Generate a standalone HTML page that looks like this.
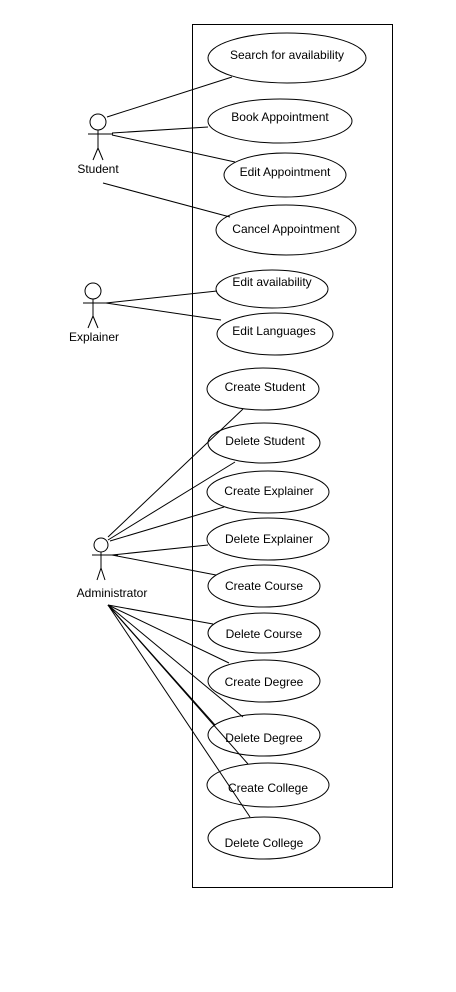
<!DOCTYPE html>
<html><head><style>html,body{margin:0;padding:0;background:#fff}svg{display:block}</style></head>
<body>
<svg width="456" height="992" xmlns="http://www.w3.org/2000/svg" font-family="Liberation Sans, sans-serif" font-size="12">
<rect x="192.5" y="24.5" width="200" height="863" fill="none" stroke="#000"/>
<g stroke="#000" fill="#fff">
<ellipse cx="287" cy="58" rx="79" ry="25"/>
<ellipse cx="280" cy="121" rx="72" ry="22"/>
<ellipse cx="285" cy="175" rx="61" ry="22"/>
<ellipse cx="286" cy="230" rx="70" ry="25"/>
<ellipse cx="272" cy="289" rx="56" ry="19"/>
<ellipse cx="275" cy="334" rx="58" ry="21"/>
<ellipse cx="263" cy="389" rx="56" ry="21"/>
<ellipse cx="264" cy="443" rx="56" ry="20"/>
<ellipse cx="268" cy="492" rx="61" ry="21"/>
<ellipse cx="268" cy="539" rx="61" ry="21"/>
<ellipse cx="264" cy="586" rx="56" ry="21"/>
<ellipse cx="264" cy="633" rx="56" ry="20"/>
<ellipse cx="264" cy="681" rx="56" ry="21"/>
<ellipse cx="264" cy="735" rx="56" ry="21"/>
<ellipse cx="268" cy="785" rx="61" ry="22"/>
<ellipse cx="264" cy="838" rx="56" ry="21"/>
</g>
<g stroke="#000" fill="none" stroke-width="1">
<line x1="107" y1="117" x2="232" y2="77"/>
<line x1="112" y1="133" x2="208" y2="127"/>
<line x1="112" y1="135" x2="235" y2="162"/>
<line x1="103" y1="183" x2="230" y2="217"/>
<line x1="106" y1="303" x2="217" y2="291"/>
<line x1="106" y1="303" x2="221" y2="320"/>
<line x1="108" y1="537" x2="243" y2="409"/>
<line x1="108" y1="540" x2="235" y2="462"/>
<line x1="110" y1="541" x2="224" y2="507"/>
<line x1="112" y1="555" x2="208" y2="545"/>
<line x1="112" y1="555" x2="216" y2="575"/>
<line x1="108" y1="605" x2="213" y2="624"/>
<line x1="108" y1="605" x2="229" y2="663"/>
<line x1="108" y1="605" x2="243" y2="717"/>
<line x1="108" y1="605" x2="215" y2="725"/>
<line x1="108" y1="605" x2="248" y2="764"/>
<line x1="108" y1="605" x2="250" y2="817"/>
</g>
<g text-anchor="middle" fill="#000">
<text x="287" y="59">Search for availability</text>
<text x="280" y="121">Book Appointment</text>
<text x="285" y="176">Edit Appointment</text>
<text x="286" y="233">Cancel Appointment</text>
<text x="272" y="286">Edit availability</text>
<text x="274" y="335">Edit Languages</text>
<text x="265" y="391">Create Student</text>
<text x="265" y="445">Delete Student</text>
<text x="269" y="495">Create Explainer</text>
<text x="269" y="543">Delete Explainer</text>
<text x="264" y="590">Create Course</text>
<text x="264" y="638">Delete Course</text>
<text x="264" y="686">Create Degree</text>
<text x="264" y="742">Delete Degree</text>
<text x="268" y="792">Create College</text>
<text x="264" y="847">Delete College</text>
<text x="98" y="173">Student</text>
<text x="94" y="341">Explainer</text>
<text x="112" y="597">Administrator</text>
</g>
<g stroke="#000" fill="#fff">
<circle cx="98" cy="122" r="8"/>
<path d="M98 130V148M88 134H113M98 148L93 160M98 148L103 160" fill="none"/>
<circle cx="93" cy="291" r="8"/>
<path d="M93 299V316M83 303H108M93 316L88 328M93 316L98 328" fill="none"/>
<circle cx="101" cy="545" r="7"/>
<path d="M101 552V568M92 555H118M101 568L97 580M101 568L105 580" fill="none"/>
</g>
</svg>
</body></html>
